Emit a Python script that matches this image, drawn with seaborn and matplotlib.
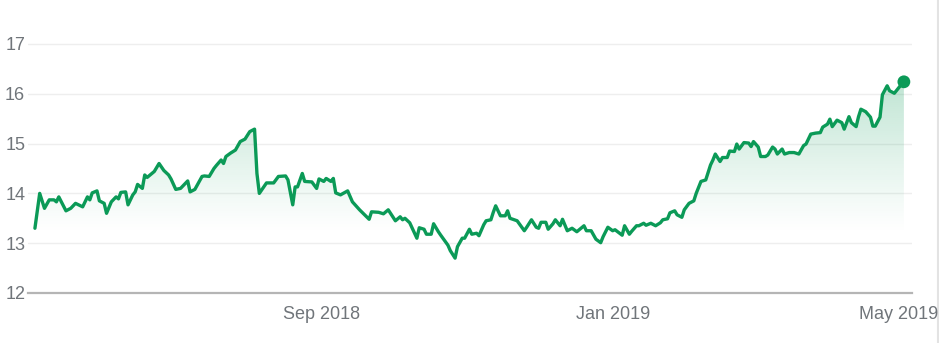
import numpy as np
import pandas as pd
import matplotlib
matplotlib.use("Agg")
import matplotlib.pyplot as plt
import matplotlib.dates as mdates
from matplotlib.lines import Line2D
import seaborn as sns

# ---- data ----
start_date = "2018-05-04"
day_offsets = [0, 2, 4, 6, 8, 9, 10, 13, 15, 17, 20, 22, 23, 24, 26, 27, 29, 30, 32, 34,
               35, 36, 38, 39, 41, 42, 43, 45, 46, 47, 50, 52, 54, 56, 57, 59, 61, 64, 65, 67,
               70, 71, 73, 75, 76, 78, 79, 80, 82, 84, 86, 88, 90, 92, 93, 94, 97, 100, 102, 105,
               106, 108, 109, 110, 112, 113, 116, 118, 119, 121, 122, 124, 125, 126, 128, 131, 133, 136, 140, 141,
               144, 146, 148, 151, 153, 154, 155, 157, 160, 161, 163, 164, 166, 167, 169, 170, 173, 174, 176, 177,
               179, 180, 182, 183, 185, 186, 188, 189, 191, 192, 193, 195, 197, 198, 199, 202, 205, 206, 208, 210,
               211, 212, 214, 215, 217, 218, 220, 221, 223, 225, 227, 230, 231, 233, 235, 237, 238, 240, 242, 243,
               246, 247, 249, 250, 252, 253, 255, 256, 258, 260, 262, 263, 265, 266, 268, 269, 271, 272, 274, 276,
               277, 279, 281, 283, 284, 285, 287, 288, 290, 291, 293, 294, 295, 297, 299, 300, 301, 303, 304, 306,
               307, 309, 310, 311, 313, 314, 316, 318, 320, 322, 323, 325, 327, 329, 330, 332, 333, 334, 336, 338,
               339, 341, 342, 344, 345, 346, 348, 350, 351, 352, 354, 355, 357, 358, 360, 362, 364]
prices = [13.30, 14.00, 13.70, 13.87, 13.87, 13.83, 13.93, 13.65, 13.70, 13.80, 13.73, 13.93, 13.87, 14.01, 14.05, 13.85, 13.80, 13.60, 13.83, 13.93,
          13.89, 14.02, 14.03, 13.77, 13.97, 14.03, 14.18, 14.10, 14.37, 14.32, 14.44, 14.60, 14.46, 14.37, 14.29, 14.08, 14.10, 14.25, 14.03, 14.08,
          14.34, 14.35, 14.34, 14.50, 14.56, 14.67, 14.60, 14.74, 14.81, 14.87, 15.04, 15.09, 15.24, 15.29, 14.40, 14.00, 14.21, 14.21, 14.34, 14.35,
          14.27, 13.77, 14.13, 14.13, 14.40, 14.24, 14.23, 14.10, 14.29, 14.24, 14.30, 14.24, 14.30, 14.01, 13.97, 14.05, 13.83, 13.67, 13.48, 13.63,
          13.62, 13.59, 13.67, 13.45, 13.53, 13.47, 13.50, 13.41, 13.10, 13.31, 13.28, 13.18, 13.18, 13.39, 13.23, 13.16, 12.96, 12.85, 12.70, 12.93,
          13.10, 13.10, 13.28, 13.18, 13.20, 13.15, 13.37, 13.45, 13.47, 13.62, 13.75, 13.55, 13.55, 13.65, 13.50, 13.45, 13.25, 13.32, 13.47, 13.32,
          13.30, 13.42, 13.42, 13.28, 13.39, 13.47, 13.35, 13.48, 13.25, 13.30, 13.23, 13.35, 13.25, 13.25, 13.08, 13.01, 13.13, 13.32, 13.25, 13.27,
          13.16, 13.35, 13.18, 13.24, 13.35, 13.35, 13.40, 13.36, 13.40, 13.35, 13.41, 13.47, 13.49, 13.61, 13.65, 13.57, 13.52, 13.67, 13.80, 13.85,
          14.00, 14.24, 14.27, 14.57, 14.67, 14.79, 14.64, 14.72, 14.72, 14.85, 14.84, 14.99, 14.89, 15.02, 15.01, 14.94, 15.04, 14.93, 14.74, 14.74,
          14.77, 14.93, 14.89, 14.79, 14.89, 14.79, 14.82, 14.82, 14.79, 14.96, 14.99, 15.19, 15.21, 15.22, 15.33, 15.39, 15.49, 15.34, 15.47, 15.42,
          15.29, 15.54, 15.42, 15.34, 15.54, 15.69, 15.64, 15.53, 15.35, 15.35, 15.53, 15.98, 16.16, 16.06, 16.01, 16.13, 16.24]
y_ticks = [12, 13, 14, 15, 16, 17]
x_tick_dates = ["2018-09-01", "2019-01-01", "2019-05-01"]

df = pd.DataFrame({
    "date": pd.Timestamp(start_date) + pd.to_timedelta(day_offsets, unit="D"),
    "price": prices,
})

GREEN = "#0b9a57"
TEXT = "#70757a"

sns.set_theme(style="white")
plt.rcParams["font.family"] = ["Liberation Sans", "DejaVu Sans"]

fig = plt.figure(figsize=(9.39, 3.43), dpi=100)
ax = fig.add_axes([28 / 939, 50 / 343, (912 - 28) / 939, (293 - 31.5) / 343])

# gradient fill under the line
poly = ax.fill_between(df["date"], df["price"], 12, color="none", lw=0)
x0 = mdates.date2num(df["date"].iloc[0])
x1 = mdates.date2num(df["date"].iloc[-1])
ytop = max(prices)
ys = np.linspace(12, ytop, 300)
alpha = np.clip((ys - 13.2) / (ytop - 13.2), 0, 1) ** 1.1 * 0.26
rgba = np.zeros((300, 2, 4))
rgba[..., :3] = matplotlib.colors.to_rgb(GREEN)
rgba[..., 3] = alpha[:, None]
im = ax.imshow(rgba, extent=[x0, x1, 12, ytop], origin="lower", aspect="auto",
               interpolation="bilinear", zorder=1)
im.set_clip_path(poly.get_paths()[0], transform=ax.transData)

sns.lineplot(data=df, x="date", y="price", color=GREEN, lw=2.4, ax=ax, zorder=3)
last = df.iloc[[-1]]
sns.scatterplot(data=last, x="date", y="price", color=GREEN, s=85, edgecolor="none", ax=ax, zorder=4)

ax.set_ylim(12, 17.25)
ax.set_xlim(x0 - 2.9, x1 + 3.4)
ax.set_yticks(y_ticks)
ax.set_xticks([mdates.date2num(pd.Timestamp(d)) for d in x_tick_dates])
ax.xaxis.set_major_formatter(mdates.DateFormatter("%b %Y"))
ax.set_xlabel("")
ax.set_ylabel("")

ax.yaxis.grid(True, color="#eeeeee", lw=1.0, zorder=0)
ax.xaxis.grid(False)
for s in ["top", "right", "left"]:
    ax.spines[s].set_visible(False)
ax.spines["bottom"].set_color("#b5b5b5")
ax.spines["bottom"].set_linewidth(1.6)
ax.spines["bottom"].set_zorder(5)

ax.tick_params(axis="y", length=0, pad=2, labelsize=13, labelcolor=TEXT)
ax.tick_params(axis="x", length=7, width=1.2, color="#b5b5b5", direction="out",
               pad=2.5, labelsize=13, labelcolor=TEXT)

# right border line of the panel
fig.add_artist(Line2D([937.5 / 939, 937.5 / 939], [0, 1], transform=fig.transFigure,
                      color="#e3e3e3", lw=1.5, zorder=-1))

fig.savefig("out.png", dpi=100)
